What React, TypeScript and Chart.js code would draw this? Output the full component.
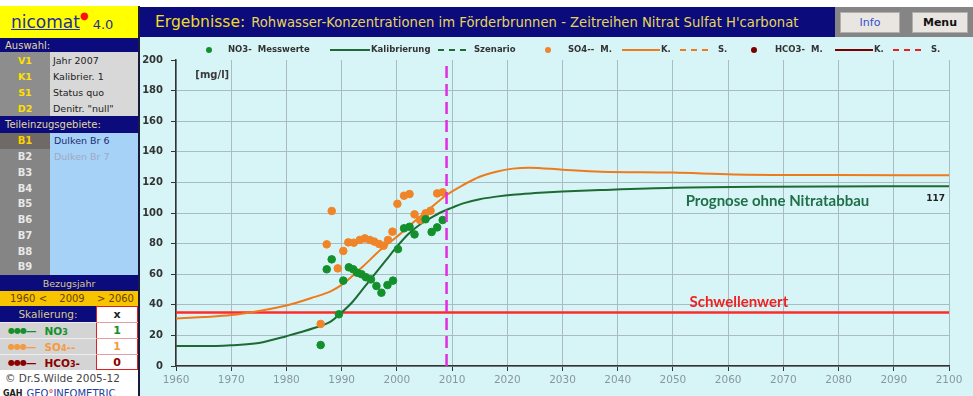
import React, { useEffect, useRef } from "react";
import { Chart, registerables } from "chart.js";
Chart.register(...registerables);

// ---------- data ----------
const xTickYears = [1960, 1970, 1980, 1990, 2000, 2010, 2020, 2030, 2040, 2050, 2060, 2070, 2080, 2090, 2100];
const yTickValues = [0, 20, 40, 60, 80, 100, 120, 140, 160, 180, 200];

const no3Years = [1986.2, 1987.3, 1988.2, 1989.5, 1990.3, 1991.3, 1992.1, 1992.8, 1993.6, 1994.4, 1995.3, 1996.3, 1997.2, 1998.3, 1999.3, 2000.2, 2001.3, 2002.3, 2003.2, 2005.2, 2006.3, 2007.3, 2008.3];
const no3Values = [13.7, 63.2, 69.7, 33.8, 55.8, 64.5, 63.2, 61, 60, 58, 56.6, 52.3, 47.9, 52.9, 55.8, 76.4, 90, 91, 86, 95.9, 87.6, 90.6, 95.4];

const so4Years = [1986.2, 1987.3, 1988.2, 1989.3, 1990.3, 1991.2, 1992.2, 1993.3, 1994.2, 1995.1, 1995.9, 1996.8, 1997.6, 1998.4, 1999.2, 2000.1, 2001.3, 2002.3, 2003.2, 2004.2, 2005.2, 2006.1, 2007.3, 2008.3];
const so4Values = [27.5, 79.5, 101.3, 63.8, 75.2, 80.8, 80.6, 82.4, 83.4, 82.4, 81.3, 79.7, 78.6, 82.4, 87.8, 106, 111.3, 112.4, 99.1, 95.4, 99.8, 101.5, 112.8, 113.5];

const no3CalYears = [1960, 1965, 1970, 1975, 1980, 1985, 1988, 1990, 1992, 1994, 1996, 1998, 2000, 2002, 2004, 2006, 2008, 2010, 2012, 2015, 2018, 2021, 2025, 2030, 2037, 2050, 2067, 2100];
const no3CalValues = [13, 13, 13.6, 15, 19.5, 24.8, 29, 35, 42, 51, 60, 69, 78, 86, 92, 96.5, 100.5, 103.5, 106.3, 109, 110.7, 112, 113, 114, 115, 116.5, 117.2, 117.5];

const so4CalYears = [1960, 1965, 1970, 1975, 1980, 1985, 1988, 1990, 1992, 1994, 1997, 2000, 2003, 2006, 2009, 2012, 2015, 2018, 2021, 2024, 2030, 2037, 2050, 2061, 2079, 2100];
const so4CalValues = [31, 32, 33.3, 36, 39.5, 45, 48.8, 53, 59, 65.5, 75.8, 84.5, 94, 103, 111.8, 118.3, 123.7, 127, 129, 129.6, 128.3, 127, 126.4, 125.2, 124.8, 124.6];

const thresholdValue = 35;
const referenceYear = 2009;
const prognoseEndValue = 117;

const legendLabels = ["NO3-  Messwerte", "Kalibrierung", "Szenario", "SO4--  M.", "K.", "S.", "HCO3-  M.", "K.", "S."];

// ---------- colours ----------
const C_DOT_GREEN = "#13902c";
const C_LINE_GREEN = "#1d6a33";
const C_DOT_ORANGE = "#f08428";
const C_LINE_ORANGE = "#ef7a1c";
const C_RED = "#ff2b2b";
const C_MAGENTA = "#e02ee0";
const C_DARKRED = "#7a0000";
const NAVY = "#0b0b7c";
const FONT = '"DejaVu Sans", Verdana, sans-serif';
const FONT2 = 'Lato, "Open Sans", sans-serif';

const pts = (xs: number[], ys: number[]) => xs.map((x, i) => ({ x, y: ys[i] }));

const overlayPlugin = {
  id: "overlay",
  afterDraw(chart: any) {
    const { ctx, scales } = chart;
    const x = scales.x, y = scales.y;
    ctx.save();
    ctx.textBaseline = "middle";
    ctx.textAlign = "left";
    ctx.fillStyle = "#3a3a3a";
    ctx.font = `bold 10px ${FONT}`;
    ctx.fillText("[mg/l]", x.getPixelForValue(1963.5), y.getPixelForValue(190));
    ctx.fillStyle = "#1f7048";
    ctx.font = `bold 15px ${FONT2}`;
    ctx.fillText("Prognose ohne Nitratabbau", x.getPixelForValue(2052.3), y.getPixelForValue(107.5));
    ctx.fillStyle = "#222";
    ctx.font = `bold 9px ${FONT}`;
    ctx.textAlign = "right";
    ctx.fillText(String(prognoseEndValue), x.getPixelForValue(2099.3), y.getPixelForValue(109.5));
    ctx.textAlign = "left";
    ctx.fillStyle = "#f02020";
    ctx.font = `bold 15px ${FONT2}`;
    ctx.fillText("Schwellenwert", x.getPixelForValue(2053), y.getPixelForValue(41.5));

    // legend
    const ly = 13;
    ctx.font = `bold 8.5px ${FONT}`;
    const dot = (cx: number, col: string) => {
      ctx.beginPath(); ctx.fillStyle = col; ctx.arc(cx, ly, 3, 0, Math.PI * 2); ctx.fill();
    };
    const line = (x0: number, x1: number, col: string, dash: number[]) => {
      ctx.beginPath(); ctx.strokeStyle = col; ctx.lineWidth = 2; ctx.setLineDash(dash);
      ctx.moveTo(x0, ly); ctx.lineTo(x1, ly); ctx.stroke(); ctx.setLineDash([]);
    };
    const text = (tx: number, s: string) => { ctx.fillStyle = "#333"; ctx.fillText(s, tx, ly); };
    dot(69, C_DOT_GREEN); text(88, legendLabels[0]);
    line(190, 230, C_LINE_GREEN, []); text(231, legendLabels[1]);
    line(298, 326, C_LINE_GREEN, [6, 5]); text(334, legendLabels[2]);
    dot(408, C_DOT_ORANGE); text(428, legendLabels[3]);
    line(482, 520, C_LINE_ORANGE, []); text(521, legendLabels[4]);
    line(540, 572, C_LINE_ORANGE, [6, 5]); text(578, legendLabels[5]);
    dot(614, C_DARKRED); text(635, legendLabels[6]);
    line(695, 733, C_DARKRED, []); text(734, legendLabels[7]);
    line(753, 785, "#e42020", [6, 5]); text(791, legendLabels[8]);
    ctx.restore();
  },
};

function ChartCanvas() {
  const ref = useRef<HTMLCanvasElement | null>(null);
  useEffect(() => {
    if (!ref.current) return;
    const chart = new Chart(ref.current, {
      type: "scatter",
      data: {
        datasets: [
          { label: "Bezugsjahr", data: [{ x: referenceYear, y: 0 }, { x: referenceYear, y: 200 }], showLine: true, borderColor: C_MAGENTA, borderWidth: 2.5, borderDash: [12, 6], pointRadius: 0, order: 0 },
          { label: "NO3- Messwerte", data: pts(no3Years, no3Values), backgroundColor: C_DOT_GREEN, borderColor: C_DOT_GREEN, pointRadius: 3.8, order: 1 },
          { label: "SO4-- M.", data: pts(so4Years, so4Values), backgroundColor: C_DOT_ORANGE, borderColor: C_DOT_ORANGE, pointRadius: 3.8, order: 2 },
          { label: "Kalibrierung", data: pts(no3CalYears, no3CalValues), showLine: true, borderColor: C_LINE_GREEN, borderWidth: 2, pointRadius: 0, cubicInterpolationMode: "monotone", order: 3 },
          { label: "K.", data: pts(so4CalYears, so4CalValues), showLine: true, borderColor: C_LINE_ORANGE, borderWidth: 2, pointRadius: 0, cubicInterpolationMode: "monotone", order: 4 },
          { label: "Schwellenwert", data: [{ x: 1960, y: thresholdValue }, { x: 2100, y: thresholdValue }], showLine: true, borderColor: C_RED, borderWidth: 2.5, pointRadius: 0, order: 5 },
        ],
      },
      options: {
        animation: false,
        responsive: false,
        layout: { padding: { left: 0, right: 24, top: 23, bottom: 0 } },
        plugins: { legend: { display: false }, tooltip: { enabled: false } },
        scales: {
          x: {
            type: "linear", min: 1960, max: 2100,
            afterFit: (s: any) => { s.height = 30; },
            afterBuildTicks: (s: any) => { s.ticks = xTickYears.map((v) => ({ value: v })); },
            ticks: { color: "#8797a2", font: { family: FONT, size: 10.5 }, padding: 3, maxRotation: 0, autoSkip: false, callback: (v: any) => String(v) },
            grid: { color: "#a9bcc4", lineWidth: 1, tickLength: 5, tickColor: "#333" },
            border: { display: true, color: "#333", width: 1.5 },
          },
          y: {
            type: "linear", min: 0, max: 200,
            afterFit: (s: any) => { s.width = 36; },
            afterBuildTicks: (s: any) => { s.ticks = yTickValues.map((v) => ({ value: v })); },
            ticks: { color: "#333", font: { family: FONT, size: 10, weight: "bold" }, padding: 8, callback: (v: any) => String(v) },
            grid: { color: (c: any) => (c.tick && c.tick.value === 200 ? "rgba(0,0,0,0)" : "#a9bcc4"), lineWidth: 1, tickLength: 5, tickColor: "#333" },
            border: { display: true, color: "#333", width: 1.5 },
          },
        },
      },
      plugins: [overlayPlugin],
    } as any);
    return () => chart.destroy();
  }, []);
  return <canvas ref={ref} width={833} height={359} style={{ position: "absolute", left: 140, top: 37, width: 833, height: 359 }} />;
}

const abs = (left: number, top: number, width: number, height: number, background: string, extra: any = {}): React.CSSProperties => ({
  position: "absolute", left, top, width, height, background, boxSizing: "border-box", ...extra,
});

const auswahlRows = [["V1", "Jahr 2007"], ["K1", "Kalibrier. 1"], ["S1", "Status quo"], ["D2", 'Denitr. "null"']];
const bRows = ["B1", "B2", "B3", "B4", "B5", "B6", "B7", "B8", "B9"];
const bNames = ["Dulken Br 6", "Dulken Br 7"];

export default function App() {
  const cell: React.CSSProperties = { display: "flex", alignItems: "center" };
  return (
    <div style={{ position: "fixed", left: 0, top: 0, width: 973, height: 396, overflow: "hidden", background: "#fff", fontFamily: FONT }}>
      {/* left panel */}
      <div style={abs(0, 6, 138, 32, "#ffff00", { ...cell, paddingLeft: 11 })}>
        <span style={{ color: "#1f2e9e", fontSize: 17, textDecoration: "underline" }}>nicomat</span>
        <span style={{ color: "#ff1010", fontSize: 10, position: "relative", top: -7 }}>●</span>
        <span style={{ color: "#1f2e9e", fontSize: 13, marginLeft: 4, position: "relative", top: 2 }}>4.0</span>
      </div>
      <div style={abs(0, 38, 138, 14, NAVY, { ...cell, paddingLeft: 5, color: "#e0d8a0", fontSize: 10 })}>Auswahl:</div>
      {auswahlRows.map((r, i) => (
        <React.Fragment key={r[0]}>
          <div style={abs(0, 52 + i * 16, 50, 16, "#8d8d8d", { ...cell, justifyContent: "center", color: "#ffe000", fontSize: 9.5, fontWeight: "bold" })}>{r[0]}</div>
          <div style={abs(50, 52 + i * 16, 88, 16, "#d8d8d8", { ...cell, paddingLeft: 3, color: "#222", fontSize: 9.5 })}>{r[1]}</div>
        </React.Fragment>
      ))}
      <div style={abs(0, 116, 138, 17, NAVY, { ...cell, paddingLeft: 5, color: "#e0d8a0", fontSize: 10 })}>Teileinzugsgebiete:</div>
      {bRows.map((b, i) => (
        <React.Fragment key={b}>
          <div style={abs(0, 133 + i * 15.75, 50, 15.75, i === 0 ? "#6f6a66" : "#858585", { ...cell, justifyContent: "center", color: i === 0 ? "#ffd000" : "#e8e8e8", fontSize: 10, fontWeight: "bold" })}>{b}</div>
          <div style={abs(50, 133 + i * 15.75, 88, 15.75, "#a6d2f8", { ...cell, paddingLeft: 4, color: i === 0 ? "#1c2a70" : "#a0a8c0", fontSize: 9.5 })}>{bNames[i] || ""}</div>
        </React.Fragment>
      ))}
      <div style={abs(0, 275, 138, 16, NAVY, { ...cell, justifyContent: "center", color: "#d8c890", fontSize: 9.5 })}>Bezugsjahr</div>
      <div style={abs(0, 291, 138, 15, "#f8c400", { ...cell, justifyContent: "space-between", padding: "0 4px 0 10px", color: "#6a4000", fontSize: 10 })}>
        <span>1960 &lt;</span><span>2009</span><span>&gt; 2060</span>
      </div>
      <div style={abs(0, 306, 96, 16, NAVY, { ...cell, justifyContent: "center", color: "#d8c890", fontSize: 10.5 })}>Skalierung:</div>
      <div style={abs(96, 306, 42, 64, "#fff", { border: "1.5px solid #e02020" })} />
      <div style={abs(96, 306, 42, 16, "transparent", { ...cell, justifyContent: "center", color: "#222", fontSize: 11, fontWeight: "bold" })}>x</div>
      {[
        ["NO", "3", "", C_DOT_GREEN, "1"],
        ["SO", "4", "--", "#f59a40", "1"],
        ["HCO", "3", "-", "#8a0000", "0"],
      ].map((r, i) => (
        <React.Fragment key={r[0]}>
          <div style={abs(0, 322 + i * 16, 96, 16, "#d4d4d4", { ...cell, paddingLeft: 8, color: r[3], fontSize: 10.5, fontWeight: "bold", borderTop: "1px solid #eee" })}>
            <span style={{ fontSize: 8, letterSpacing: -1 }}>●●●</span><span style={{ marginRight: 8 }}>—</span>
            <span>{r[0]}<span style={{ fontSize: 8 }}>{r[1]}</span>{r[2]}</span>
          </div>
          <div style={abs(96, 322 + i * 16, 42, 16, "transparent", { ...cell, justifyContent: "center", color: r[3], fontSize: 11, fontWeight: "bold", borderTop: "1px solid #e6a0a0" })}>{r[4]}</div>
        </React.Fragment>
      ))}
      <div style={abs(0, 370, 138, 16, "#fff", { ...cell, paddingLeft: 5, color: "#444", fontSize: 10.5 })}>© Dr.S.Wilde 2005-12</div>
      <div style={abs(0, 386, 138, 14, "#fff", { ...cell, paddingLeft: 3, fontSize: 10 })}>
        <span style={{ fontWeight: "bold", fontSize: 8, color: "#222", marginRight: 4 }}>GAH</span>
        <span style={{ color: "#2040a0" }}>GEO</span><span style={{ color: "#e01010" }}>°</span><span style={{ color: "#2040a0" }}>INFOMETRIC</span>
      </div>
      <div style={abs(138, 6, 2, 390, "#1a1a3a")} />

      {/* title bar */}
      <div style={abs(140, 7, 695, 30, NAVY, { ...cell, paddingLeft: 15, whiteSpace: "nowrap" })}>
        <span style={{ color: "#f0dc20", fontSize: 15.5 }}>Ergebnisse:</span>
        <span style={{ color: "#e6d658", fontSize: 13.2, marginLeft: 6 }}>Rohwasser-Konzentrationen im Förderbrunnen - Zeitreihen Nitrat Sulfat H'carbonat</span>
      </div>
      <div style={abs(835, 7, 138, 30, "#858585")} />
      <div style={abs(840, 12, 60, 21, "#e9e5e1", { ...cell, justifyContent: "center", border: "1px solid #b0b0b0", color: "#3050d0", fontSize: 11 })}>Info</div>
      <div style={abs(912, 12, 56, 21, "#e9e5e1", { ...cell, justifyContent: "center", border: "1px solid #b0b0b0", color: "#111", fontSize: 11, fontWeight: "bold" })}>Menu</div>

      {/* chart area */}
      <div style={abs(140, 37, 833, 359, "#d7f5f7")} />
      <ChartCanvas />
    </div>
  );
}
